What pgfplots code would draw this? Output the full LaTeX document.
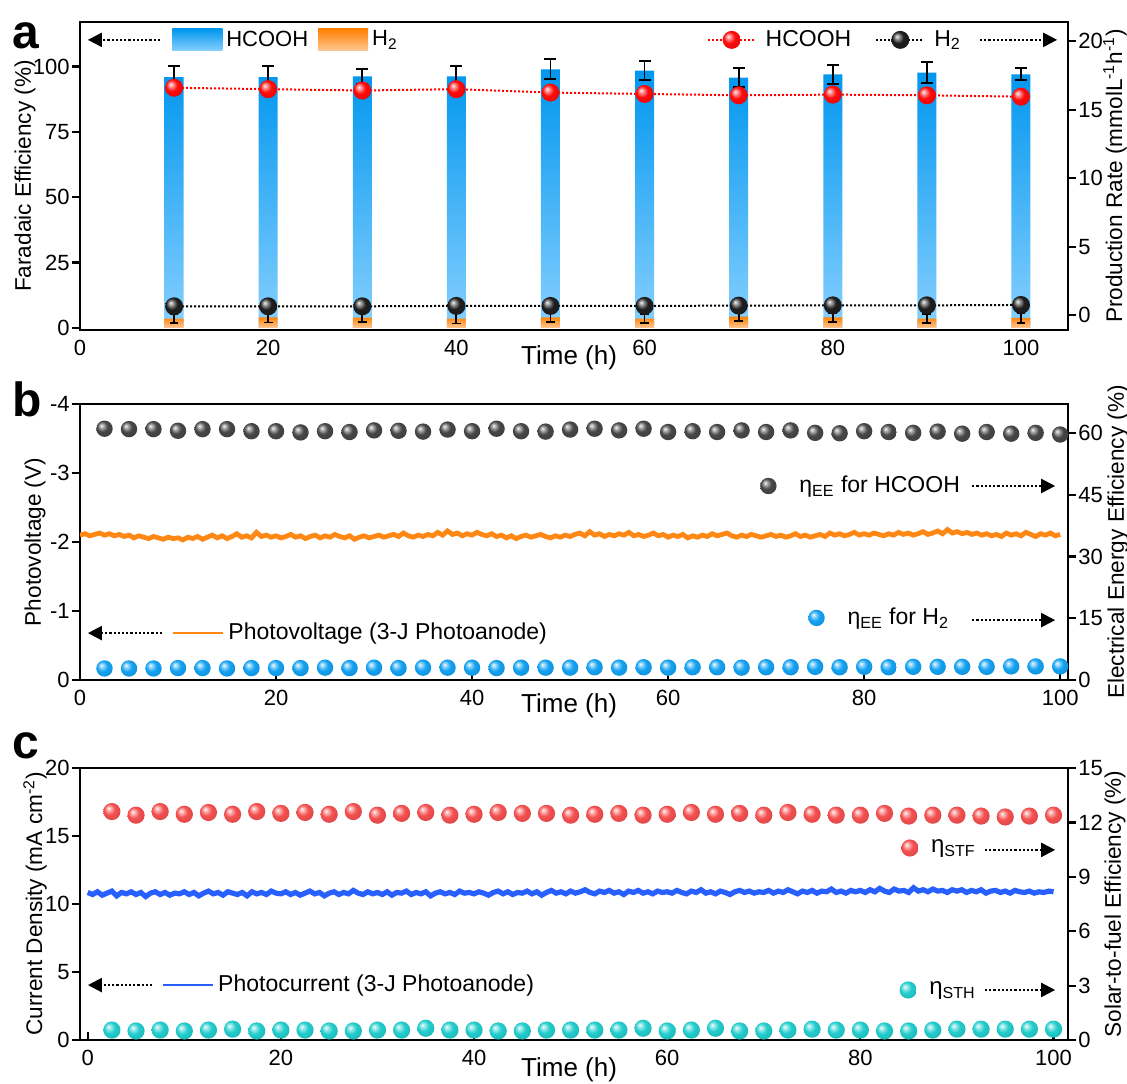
\documentclass[border=0pt]{standalone}
\usepackage{fontspec}
\setmainfont{Liberation Sans}
\usepackage{pgfplots}
\pgfplotsset{compat=1.18}
\usetikzlibrary{arrows.meta}

\definecolor{barblue}{RGB}{0,150,238}
\definecolor{barbluelt}{RGB}{135,208,255}
\definecolor{barorange}{RGB}{255,128,0}
\definecolor{barorangelt}{RGB}{255,200,150}
\definecolor{pvorange}{RGB}{255,135,20}
\definecolor{pcblue}{RGB}{40,95,255}
\definecolor{bred}{RGB}{255,10,10}
\definecolor{bred2}{RGB}{245,80,80}
\definecolor{bblack}{RGB}{30,30,30}
\definecolor{bgray}{RGB}{70,70,70}
\definecolor{bblue}{RGB}{20,162,242}
\definecolor{bcyan}{RGB}{35,205,205}

\makeatletter
\pgfdeclareradialshading[tikz@ball]{glossy}{\pgfqpoint{-10bp}{10bp}}{%
  color(0bp)=(tikz@ball!5!white);
  color(7bp)=(tikz@ball!50!white);
  color(16bp)=(tikz@ball);
  color(30bp)=(tikz@ball!90!black);
  color(50bp)=(tikz@ball!72!black)}
\makeatother

\pgfdeclareplotmark{redball}{\shade[ball color=bred, shading=glossy, draw=none] (0pt,0pt) circle (\pgfplotmarksize);}
\pgfdeclareplotmark{blackball}{\shade[ball color=bblack, shading=glossy, draw=none] (0pt,0pt) circle (\pgfplotmarksize);}
\pgfdeclareplotmark{grayball}{\shade[ball color=bgray, shading=glossy, draw=none] (0pt,0pt) circle (\pgfplotmarksize);}
\pgfdeclareplotmark{blueball}{\shade[ball color=bblue, shading=glossy, draw=none] (0pt,0pt) circle (\pgfplotmarksize);}
\pgfdeclareplotmark{pinkball}{\shade[ball color=bred2, shading=glossy, draw=none] (0pt,0pt) circle (\pgfplotmarksize);}
\pgfdeclareplotmark{cyanball}{\shade[ball color=bcyan, shading=glossy, draw=none] (0pt,0pt) circle (\pgfplotmarksize);}

\tikzset{arr/.style={densely dotted, line width=1.1pt, -{Triangle[length=7pt,width=7pt]}}}

\pgfplotsset{
  panel/.style={
    scale only axis, width=494pt, anchor=north west,
    /pgf/number format/assume math mode=true,
    axis line style={line width=1.1pt},
    tick style={line width=1.1pt, black},
    major tick length=4pt,
    tick label style={font=\fontsize{11}{13}\selectfont, inner sep=1pt},
    label style={font=\fontsize{11.3}{13}\selectfont},
    xlabel style={font=\fontsize{13}{15}\selectfont, anchor=center},
    ylabel style={anchor=center},
    legend style={draw=none, fill=none, inner sep=0pt, font=\fontsize{11.5}{13}\selectfont},
    legend cell align=left,
  },
  balllegend/.style={legend image code/.code={\draw[mark repeat=2,mark phase=2] plot coordinates {(0pt,0pt) (6pt,0pt) (12pt,0pt)}; \path[draw=none, fill=none] (0pt,0pt) -- (#1,0pt);}},
  linelegend/.style={legend image code/.code={\draw[mark repeat=2,mark phase=2] plot coordinates {(0pt,0pt) (12pt,0pt) (24pt,0pt)}; \path[draw=none] (27pt,0pt);}},
  ebar/.style={error bars/.cd, y dir=both, y explicit,
    error bar style={draw=black, line width=0.9pt},
    error mark options={draw=black, line width=0.9pt, rotate=90, mark size=#1}},
}

\begin{document}
\begin{tikzpicture}
\useasboundingbox (0,0) rectangle (563.5pt,-541.5pt);

% ---------------- panel a ----------------
\begin{axis}[panel, at={(40pt,-11pt)}, height=154pt,
  xmin=0, xmax=105, ymin=-0.8, ymax=117,
  xtick={0,20,...,100}, ytick={0,25,...,100},
  xtick pos=bottom, ytick pos=left, tick align=outside,
  xtick style={draw=none},
  xlabel={Time (h)}, ylabel={Faradaic Efficiency (\%)},
  xlabel style={at={(axis description cs:0.495,0)}, yshift=-14pt},
  ylabel style={at={(axis description cs:-0.0557,0.5)}},
  legend columns=2,
  legend style={at={(axis description cs:0.093,0.942)}, anchor=west,
    font=\fontsize{11}{13}\selectfont,
    /tikz/every even column/.append style={column sep=3pt}},
]
\addplot[ybar, bar width=9.5pt, bar shift=0pt, draw=none,
  top color=barblue, middle color=barblue!80!barbluelt, bottom color=barbluelt,
  legend image code/.code={\shade[top color=barblue, bottom color=barbluelt, draw=none] (0pt,-5.5pt) rectangle (25pt,5.5pt);},
  ebar=3pt]
coordinates {(10,95.9) +- (0,4.3) (20,95.9) +- (0,4.3) (30,96.2) +- (0,2.7) (40,96.2) +- (0,4.0)
 (50,98.9) +- (0,3.8) (60,98.4) +- (0,3.6) (70,95.7) +- (0,3.6) (80,97.0) +- (0,3.7)
 (90,97.6) +- (0,4.0) (100,97.0) +- (0,2.3)};
\addlegendentry{HCOOH}
\addplot[ybar, bar width=9.5pt, bar shift=0pt, draw=none,
  top color=barorange, bottom color=barorangelt,
  legend image code/.code={\shade[top color=barorange, bottom color=barorangelt, draw=none] (0pt,-5.5pt) rectangle (25pt,5.5pt);},
  ebar=2.2pt]
coordinates {(10,3.6) +- (0,1.8) (20,4.0) +- (0,1.9) (30,3.9) +- (0,1.6) (40,3.6) +- (0,1.9)
 (50,4.0) +- (0,1.6) (60,3.6) +- (0,1.8) (70,4.3) +- (0,1.8) (80,4.0) +- (0,1.7)
 (90,3.6) +- (0,1.8) (100,3.8) +- (0,1.9)};
\addlegendentry{H\textsubscript{2}}
\draw[arr] (axis description cs:0.081,0.942) -- (axis description cs:0.008,0.942);
\end{axis}

\begin{axis}[panel, at={(40pt,-11pt)}, height=154pt,
  xmin=0, xmax=105, ymin=-1.08, ymax=21.4,
  axis y line*=right, axis x line=none, xtick=\empty,
  ytick={0,5,...,20}, tick align=outside,
  ylabel={Production Rate (mmolL\textsuperscript{-1}h\textsuperscript{-1})},
  ylabel style={at={(axis description cs:1.0476,0.5)}},
  legend columns=2,
  legend style={at={(axis description cs:0.896,0.942)}, anchor=east,
    /tikz/every even column/.append style={column sep=10pt}},
]
\addplot[color=red, densely dotted, line width=1pt, mark=redball, mark size=4.5pt,
  mark options={solid}, linelegend]
coordinates {(10,16.6) (20,16.5) (30,16.4) (40,16.5) (50,16.25) (60,16.15) (70,16.05) (80,16.1) (90,16.05) (100,15.95)};
\addlegendentry{HCOOH}
\addplot[color=black, densely dotted, line width=1pt, mark=blackball, mark size=4.5pt,
  mark options={solid}, linelegend]
coordinates {(10,0.65) (20,0.65) (30,0.65) (40,0.68) (50,0.68) (60,0.68) (70,0.7) (80,0.72) (90,0.72) (100,0.75)};
\addlegendentry{H\textsubscript{2}}
\draw[arr] (axis description cs:0.911,0.942) -- (axis description cs:0.989,0.942);
\end{axis}

% ---------------- panel b ----------------
\begin{axis}[panel, at={(40pt,-202pt)}, height=138pt,
  xmin=0, xmax=100.8, ymin=-4, ymax=0, y dir=reverse,
  xtick={0,20,...,100}, ytick={-4,-3,-2,-1,0},
  xtick pos=bottom, ytick pos=left, tick align=outside,
  xtick style={yshift=4pt},
  xlabel={Time (h)}, ylabel={Photovoltage (V)},
  xlabel style={at={(axis description cs:0.495,0)}, yshift=-13pt},
  ylabel style={at={(axis description cs:-0.0455,0.5)}},
  legend style={at={(axis description cs:0.093,0.17)}, anchor=west},
]
\addplot[pvorange, line width=2.4pt,
  legend image code/.code={\draw[line width=1.1pt] (0pt,0pt) -- (25pt,0pt);}]
coordinates {
(0,-2.10)(0.5,-2.12)(1,-2.09)(1.5,-2.11)(2,-2.13)(2.5,-2.10)(3,-2.12)(3.5,-2.09)(4,-2.11)(4.5,-2.08)
(5,-2.10)(5.5,-2.06)(6,-2.09)(6.5,-2.07)(7,-2.05)(7.5,-2.08)(8,-2.06)(8.5,-2.04)(9,-2.07)(9.5,-2.05)
(10,-2.06)(10.5,-2.03)(11,-2.07)(11.5,-2.05)(12,-2.08)(12.5,-2.04)(13,-2.07)(13.5,-2.10)(14,-2.06)(14.5,-2.09)
(15,-2.05)(15.5,-2.08)(16,-2.12)(16.5,-2.07)(17,-2.09)(17.5,-2.06)(18,-2.14)(18.5,-2.08)(19,-2.10)(19.5,-2.07)
(20,-2.09)(20.5,-2.06)(21,-2.08)(21.5,-2.11)(22,-2.07)(22.5,-2.09)(23,-2.05)(23.5,-2.08)(24,-2.10)(24.5,-2.06)
(25,-2.09)(25.5,-2.07)(26,-2.11)(26.5,-2.08)(27,-2.06)(27.5,-2.09)(28,-2.04)(28.5,-2.07)(29,-2.09)(29.5,-2.06)
(30,-2.08)(30.5,-2.10)(31,-2.07)(31.5,-2.09)(32,-2.11)(32.5,-2.08)(33,-2.13)(33.5,-2.09)(34,-2.07)(34.5,-2.10)
(35,-2.08)(35.5,-2.11)(36,-2.09)(36.5,-2.14)(37,-2.10)(37.5,-2.16)(38,-2.11)(38.5,-2.13)(39,-2.09)(39.5,-2.12)
(40,-2.10)(40.5,-2.14)(41,-2.11)(41.5,-2.09)(42,-2.12)(42.5,-2.08)(43,-2.10)(43.5,-2.06)(44,-2.09)(44.5,-2.05)
(45,-2.08)(45.5,-2.10)(46,-2.07)(46.5,-2.09)(47,-2.11)(47.5,-2.08)(48,-2.06)(48.5,-2.09)(49,-2.07)(49.5,-2.10)
(50,-2.08)(50.5,-2.11)(51,-2.13)(51.5,-2.09)(52,-2.15)(52.5,-2.10)(53,-2.12)(53.5,-2.08)(54,-2.11)(54.5,-2.09)
(55,-2.12)(55.5,-2.10)(56,-2.14)(56.5,-2.09)(57,-2.11)(57.5,-2.08)(58,-2.10)(58.5,-2.13)(59,-2.09)(59.5,-2.11)
(60,-2.07)(60.5,-2.10)(61,-2.08)(61.5,-2.11)(62,-2.06)(62.5,-2.09)(63,-2.07)(63.5,-2.10)(64,-2.08)(64.5,-2.12)
(65,-2.09)(65.5,-2.11)(66,-2.13)(66.5,-2.09)(67,-2.07)(67.5,-2.10)(68,-2.08)(68.5,-2.11)(69,-2.09)(69.5,-2.07)
(70,-2.09)(70.5,-2.11)(71,-2.08)(71.5,-2.10)(72,-2.07)(72.5,-2.09)(73,-2.12)(73.5,-2.08)(74,-2.10)(74.5,-2.07)
(75,-2.09)(75.5,-2.11)(76,-2.08)(76.5,-2.13)(77,-2.10)(77.5,-2.12)(78,-2.09)(78.5,-2.11)(79,-2.14)(79.5,-2.10)
(80,-2.12)(80.5,-2.10)(81,-2.13)(81.5,-2.11)(82,-2.09)(82.5,-2.12)(83,-2.10)(83.5,-2.14)(84,-2.11)(84.5,-2.13)
(85,-2.10)(85.5,-2.12)(86,-2.15)(86.5,-2.11)(87,-2.13)(87.5,-2.16)(88,-2.12)(88.5,-2.18)(89,-2.13)(89.5,-2.15)
(90,-2.12)(90.5,-2.14)(91,-2.11)(91.5,-2.13)(92,-2.10)(92.5,-2.12)(93,-2.09)(93.5,-2.11)(94,-2.08)(94.5,-2.13)
(95,-2.10)(95.5,-2.12)(96,-2.09)(96.5,-2.14)(97,-2.11)(97.5,-2.08)(98,-2.12)(98.5,-2.10)(99,-2.13)(99.5,-2.09)
(100,-2.11)};
\addlegendentry{Photovoltage (3-J Photoanode)}
\draw[arr] (axis description cs:0.083,0.17) -- (axis description cs:0.008,0.17);
\end{axis}

\begin{axis}[panel, at={(40pt,-202pt)}, height=138pt,
  xmin=0, xmax=100.8, ymin=0, ymax=67,
  axis y line*=right, axis x line=none, xtick=\empty,
  ytick={0,15,...,60}, tick align=outside,
  ylabel={Electrical Energy Efficiency (\%)},
  ylabel style={at={(axis description cs:1.0506,0.5)}},
  legend style={at={(axis description cs:0.895,0.703)}, anchor=east},
]
\addplot[only marks, mark=grayball, mark size=4.1pt, balllegend=19.5pt]
coordinates {(2.5,61.0)(5,60.9)(7.5,60.9)(10,60.5)(12.5,60.9)(15,60.9)(17.5,60.4)(20,60.4)(22.5,60.1)(25,60.4)
(27.5,60.2)(30,60.6)(32.5,60.5)(35,60.3)(37.5,60.8)(40,60.4)(42.5,61.0)(45,60.4)(47.5,60.3)(50,60.8)
(52.5,61.0)(55,60.6)(57.5,61.0)(60,60.2)(62.5,60.4)(65,60.2)(67.5,60.6)(70,60.2)(72.5,60.6)(75,60.0)
(77.5,59.9)(80,60.4)(82.5,60.2)(85,60.0)(87.5,60.3)(90,59.8)(92.5,60.2)(95,59.8)(97.5,60.0)(100,59.6)};
\addlegendentry{η\textsubscript{EE} for HCOOH}
\draw[arr] (axis description cs:0.903,0.703) -- (axis description cs:0.987,0.703);
\draw[arr] (axis description cs:0.903,0.217) -- (axis description cs:0.987,0.217);
\end{axis}

\begin{axis}[panel, at={(40pt,-202pt)}, height=138pt, hide axis,
  xmin=0, xmax=100.8, ymin=0, ymax=67,
  legend style={at={(axis description cs:0.884,0.225)}, anchor=east},
]
\addplot[only marks, mark=blueball, mark size=4.1pt, balllegend=19.5pt]
coordinates {(2.5,2.8)(5,2.8)(7.5,2.8)(10,2.9)(12.5,2.9)(15,2.8)(17.5,2.9)(20,2.9)(22.5,2.9)(25,3.0)
(27.5,2.9)(30,3.0)(32.5,2.9)(35,3.0)(37.5,3.0)(40,3.0)(42.5,2.9)(45,3.0)(47.5,3.0)(50,3.0)
(52.5,3.1)(55,3.0)(57.5,3.1)(60,3.0)(62.5,3.1)(65,3.1)(67.5,3.0)(70,3.1)(72.5,3.1)(75,3.2)
(77.5,3.1)(80,3.2)(82.5,3.1)(85,3.2)(87.5,3.2)(90,3.2)(92.5,3.2)(95,3.3)(97.5,3.3)(100,3.3)};
\addlegendentry{η\textsubscript{EE} for H\textsubscript{2}}
\end{axis}

% ---------------- panel c ----------------
\begin{axis}[panel, at={(40pt,-384pt)}, height=136pt,
  xmin=-0.8, xmax=101.5, ymin=0, ymax=20,
  xtick={0,20,...,100}, ytick={0,5,...,20},
  xtick pos=bottom, ytick pos=left, tick align=outside,
  xtick style={yshift=4pt},
  xlabel={Time (h)}, ylabel={Current Density (mA cm\textsuperscript{-2})},
  xlabel style={at={(axis description cs:0.495,0)}, yshift=-15pt},
  ylabel style={at={(axis description cs:-0.0455,0.5)}},
  legend style={at={(axis description cs:0.083,0.202)}, anchor=west},
]
\addplot[pcblue, line width=2.6pt,
  legend image code/.code={\draw[line width=0.9pt] (0pt,0pt) -- (25pt,0pt);}]
coordinates {
(0,10.85)(0.5,10.70)(1,10.90)(1.5,10.65)(2,10.80)(2.5,10.95)(3,10.60)(3.5,10.85)(4,10.75)(4.5,10.90)
(5,10.70)(5.5,10.85)(6,10.55)(6.5,10.80)(7,10.90)(7.5,10.70)(8,10.85)(8.5,10.65)(9,10.80)(9.5,10.75)
(10,10.90)(10.5,10.70)(11,10.85)(11.5,10.60)(12,10.80)(12.5,10.95)(13,10.75)(13.5,10.85)(14,10.65)(14.5,10.90)
(15,10.80)(15.5,10.70)(16,10.85)(16.5,10.60)(17,10.90)(17.5,10.75)(18,10.85)(18.5,10.70)(19,10.95)(19.5,10.80)
(20,10.75)(20.5,10.90)(21,10.70)(21.5,10.85)(22,10.65)(22.5,10.80)(23,10.95)(23.5,10.75)(24,10.85)(24.5,10.60)
(25,10.80)(25.5,10.90)(26,10.70)(26.5,10.85)(27,10.75)(27.5,11.00)(28,10.80)(28.5,10.70)(29,10.90)(29.5,10.75)
(30,10.85)(30.5,10.70)(31,10.90)(31.5,10.65)(32,10.85)(32.5,10.80)(33,10.95)(33.5,10.70)(34,10.85)(34.5,10.75)
(35,10.90)(35.5,10.60)(36,10.80)(36.5,10.90)(37,10.75)(37.5,10.85)(38,10.70)(38.5,10.95)(39,10.80)(39.5,10.85)
(40,10.75)(40.5,10.90)(41,10.80)(41.5,10.65)(42,10.85)(42.5,10.95)(43,10.75)(43.5,10.90)(44,10.70)(44.5,10.85)
(45,10.80)(45.5,10.95)(46,10.75)(46.5,10.90)(47,10.65)(47.5,10.85)(48,11.00)(48.5,10.80)(49,10.90)(49.5,10.75)
(50,10.95)(50.5,10.80)(51,10.90)(51.5,11.05)(52,10.85)(52.5,10.75)(53,10.95)(53.5,10.85)(54,11.00)(54.5,10.80)
(55,10.90)(55.5,10.70)(56,10.95)(56.5,10.85)(57,11.00)(57.5,10.80)(58,10.90)(58.5,10.75)(59,10.95)(59.5,10.85)
(60,10.90)(60.5,10.80)(61,11.00)(61.5,10.85)(62,10.75)(62.5,10.95)(63,10.85)(63.5,11.05)(64,10.80)(64.5,10.90)
(65,10.75)(65.5,10.95)(66,10.85)(66.5,10.70)(67,10.90)(67.5,11.00)(68,10.85)(68.5,10.95)(69,10.80)(69.5,10.90)
(70,10.85)(70.5,11.00)(71,10.80)(71.5,10.95)(72,10.85)(72.5,11.05)(73,10.90)(73.5,10.75)(74,10.95)(74.5,10.85)
(75,11.00)(75.5,10.80)(76,10.95)(76.5,10.90)(77,11.10)(77.5,10.85)(78,10.95)(78.5,10.80)(79,11.00)(79.5,10.90)
(80,11.00)(80.5,10.85)(81,11.05)(81.5,10.90)(82,11.15)(82.5,10.95)(83,10.85)(83.5,11.10)(84,10.95)(84.5,11.00)
(85,10.85)(85.5,11.20)(86,10.95)(86.5,11.05)(87,10.90)(87.5,11.10)(88,10.95)(88.5,11.00)(89,10.85)(89.5,11.05)
(90,10.95)(90.5,11.05)(91,10.85)(91.5,11.00)(92,10.90)(92.5,11.05)(93,10.80)(93.5,10.95)(94,11.00)(94.5,10.85)
(95,10.95)(95.5,10.80)(96,11.00)(96.5,10.90)(97,10.85)(97.5,10.95)(98,10.80)(98.5,10.90)(99,10.85)(99.5,10.95)
(100,10.90)};
\addlegendentry{Photocurrent (3-J Photoanode)}
\draw[arr] (axis description cs:0.073,0.202) -- (axis description cs:0.008,0.202);
\end{axis}

\begin{axis}[panel, at={(40pt,-384pt)}, height=136pt,
  xmin=-0.8, xmax=101.5, ymin=0, ymax=15,
  axis y line*=right, axis x line=none, xtick=\empty,
  ytick={0,3,...,15}, tick align=outside,
  ylabel={Solar-to-fuel Efficiency (\%)},
  ylabel style={at={(axis description cs:1.0476,0.5)}},
  legend style={at={(axis description cs:0.911,0.706)}, anchor=east, font=\fontsize{12}{13}\selectfont},
]
\addplot[only marks, mark=pinkball, mark size=4.3pt, balllegend=14.6pt]
coordinates {(2.5,12.6)(5,12.4)(7.5,12.6)(10,12.45)(12.5,12.55)(15,12.45)(17.5,12.6)(20,12.5)(22.5,12.55)(25,12.45)
(27.5,12.6)(30,12.4)(32.5,12.5)(35,12.55)(37.5,12.4)(40,12.45)(42.5,12.55)(45,12.5)(47.5,12.5)(50,12.4)
(52.5,12.45)(55,12.5)(57.5,12.4)(60,12.45)(62.5,12.55)(65,12.45)(67.5,12.5)(70,12.4)(72.5,12.55)(75,12.45)
(77.5,12.4)(80,12.4)(82.5,12.5)(85,12.35)(87.5,12.4)(90,12.4)(92.5,12.35)(95,12.3)(97.5,12.35)(100,12.4)};
\addlegendentry{η\textsubscript{STF}}
\draw[arr] (axis description cs:0.916,0.699) -- (axis description cs:0.987,0.699);
\draw[arr] (axis description cs:0.916,0.184) -- (axis description cs:0.987,0.184);
\end{axis}

\begin{axis}[panel, at={(40pt,-384pt)}, height=136pt, hide axis,
  xmin=-0.8, xmax=101.5, ymin=0, ymax=15,
  legend style={at={(axis description cs:0.911,0.184)}, anchor=east, font=\fontsize{12}{13}\selectfont},
]
\addplot[only marks, mark=cyanball, mark size=4.3pt, balllegend=14.6pt]
coordinates {(2.5,0.55)(5,0.5)(7.5,0.55)(10,0.5)(12.5,0.55)(15,0.6)(17.5,0.5)(20,0.55)(22.5,0.55)(25,0.5)
(27.5,0.5)(30,0.55)(32.5,0.55)(35,0.65)(37.5,0.55)(40,0.55)(42.5,0.5)(45,0.5)(47.5,0.55)(50,0.55)
(52.5,0.55)(55,0.55)(57.5,0.65)(60,0.5)(62.5,0.55)(65,0.65)(67.5,0.5)(70,0.5)(72.5,0.55)(75,0.6)
(77.5,0.55)(80,0.55)(82.5,0.5)(85,0.5)(87.5,0.55)(90,0.6)(92.5,0.6)(95,0.6)(97.5,0.6)(100,0.6)};
\addlegendentry{η\textsubscript{STH}}
\end{axis}

% panel letters
\node[font=\fontsize{24}{24}\selectfont\bfseries, anchor=base west, inner sep=0pt] at (6pt,-24pt) {a};
\node[font=\fontsize{24}{24}\selectfont\bfseries, anchor=base west, inner sep=0pt] at (6pt,-208pt) {b};
\node[font=\fontsize{24}{24}\selectfont\bfseries, anchor=base west, inner sep=0pt] at (6pt,-379pt) {c};
\end{tikzpicture}
\end{document}
